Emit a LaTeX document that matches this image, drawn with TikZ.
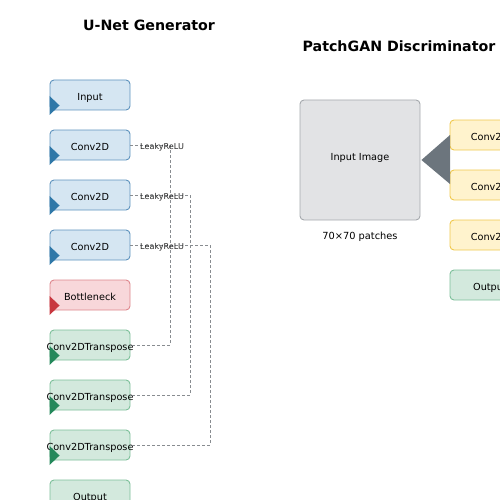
\documentclass[tikz,border=0pt]{standalone}
\usepackage{fontspec}
\setmainfont{DejaVu Sans}
\begin{document}
\begin{tikzpicture}[x=1pt,y=-1pt,
  box/.style={draw, line width=0.9pt, rounded corners=4pt, minimum width=80pt, minimum height=30pt, inner sep=0pt, font=\fontsize{9.7}{11}\selectfont},
  bluebox/.style={box, fill=bfill, draw=bline},
  redbox/.style={box, fill=rfill, draw=rline},
  greenbox/.style={box, fill=gfill, draw=gline},
  yellowbox/.style={box, fill=yfill, draw=yline},
  skip/.style={draw=skipc, line width=1pt, dash pattern=on 3pt off 2pt},
  lbl/.style={font=\fontsize{8.1}{9}\selectfont, inner sep=0pt, anchor=west, text=black!85},
  ttl/.style={font=\bfseries\fontsize{14.2}{16}\selectfont}
]
\definecolor{bfill}{HTML}{D5E6F2}
\definecolor{bline}{HTML}{5E93BD}
\definecolor{btri}{HTML}{2F78A8}
\definecolor{rfill}{HTML}{F8D7DA}
\definecolor{rline}{HTML}{DE878D}
\definecolor{rtri}{HTML}{C8373F}
\definecolor{gfill}{HTML}{D3E9DD}
\definecolor{gline}{HTML}{7DBF99}
\definecolor{gtri}{HTML}{24885B}
\definecolor{yfill}{HTML}{FFF3CD}
\definecolor{yline}{HTML}{F0C84C}
\definecolor{gyfill}{HTML}{E2E3E5}
\definecolor{gyline}{HTML}{A5A9AD}
\definecolor{gytri}{HTML}{6C757D}
\definecolor{skipc}{HTML}{888C90}
\newcommand{\boxtxt}[2][-5.2pt]{\makebox[0pt]{\raisebox{#1}[0pt][0pt]{#2}}}
\useasboundingbox (0,0) rectangle (500,500);

\node[ttl] (t1) at (149,25) {U-Net Generator};
\node[ttl] (t2) at (399,46) {PatchGAN Discriminator};

% U-Net
\node[bluebox] (in) at (90,95) {\boxtxt{Input}};
\node[bluebox] (c1) at (90,145) {\boxtxt{Conv2D}};
\node[bluebox] (c2) at (90,195) {\boxtxt{Conv2D}};
\node[bluebox] (c3) at (90,245) {\boxtxt{Conv2D}};
\node[redbox] (bn) at (90,295) {\boxtxt{Bottleneck}};
\node[greenbox] (d1) at (90,345) {\boxtxt{Conv2DTranspose}};
\node[greenbox] (d2) at (90,395) {\boxtxt{Conv2DTranspose}};
\node[greenbox] (d3) at (90,445) {\boxtxt{Conv2DTranspose}};
\node[greenbox] (out) at (90,495) {\boxtxt{Output}};

\foreach \n/\c in {in/btri,c1/btri,c2/btri,c3/btri,bn/rtri,d1/gtri,d2/gtri,d3/gtri}{
  \fill[\c] (\n.west) ++(0,1) -- ++(0,19) -- ++(10,-9.5) -- cycle;
}

% skip connections
\draw[skip] (c1.east) -| (170,345) -- (d1.east);
\draw[skip] (c2.east) -| (190,395) -- (d2.east);
\draw[skip] (c3.east) -| (210,445) -- (d3.east);
\node[lbl] (l1) at (140,147) {LeakyReLU};
\node[lbl] (l2) at (140,197) {LeakyReLU};
\node[lbl] (l3) at (140,247) {LeakyReLU};

% PatchGAN
\node[box, fill=gyfill, draw=gyline, minimum width=120pt, minimum height=120pt] (img) at (360,160) {\boxtxt[-0.3pt]{Input Image}};
\node[font=\fontsize{9.8}{11}\selectfont] (pt) at (360,237) {70×70 patches};
\node[yellowbox] (p1) at (490,135) {\boxtxt{Conv2D}};
\node[yellowbox] (p2) at (490,185) {\boxtxt{Conv2D}};
\node[yellowbox] (p3) at (490,235) {\boxtxt{Conv2D}};
\node[greenbox] (pout) at (490,285) {\boxtxt{Output}};
\fill[gytri] (img.east) ++(1,0) -- (450,135) -- (450,184) -- cycle;
\end{tikzpicture}
\end{document}
